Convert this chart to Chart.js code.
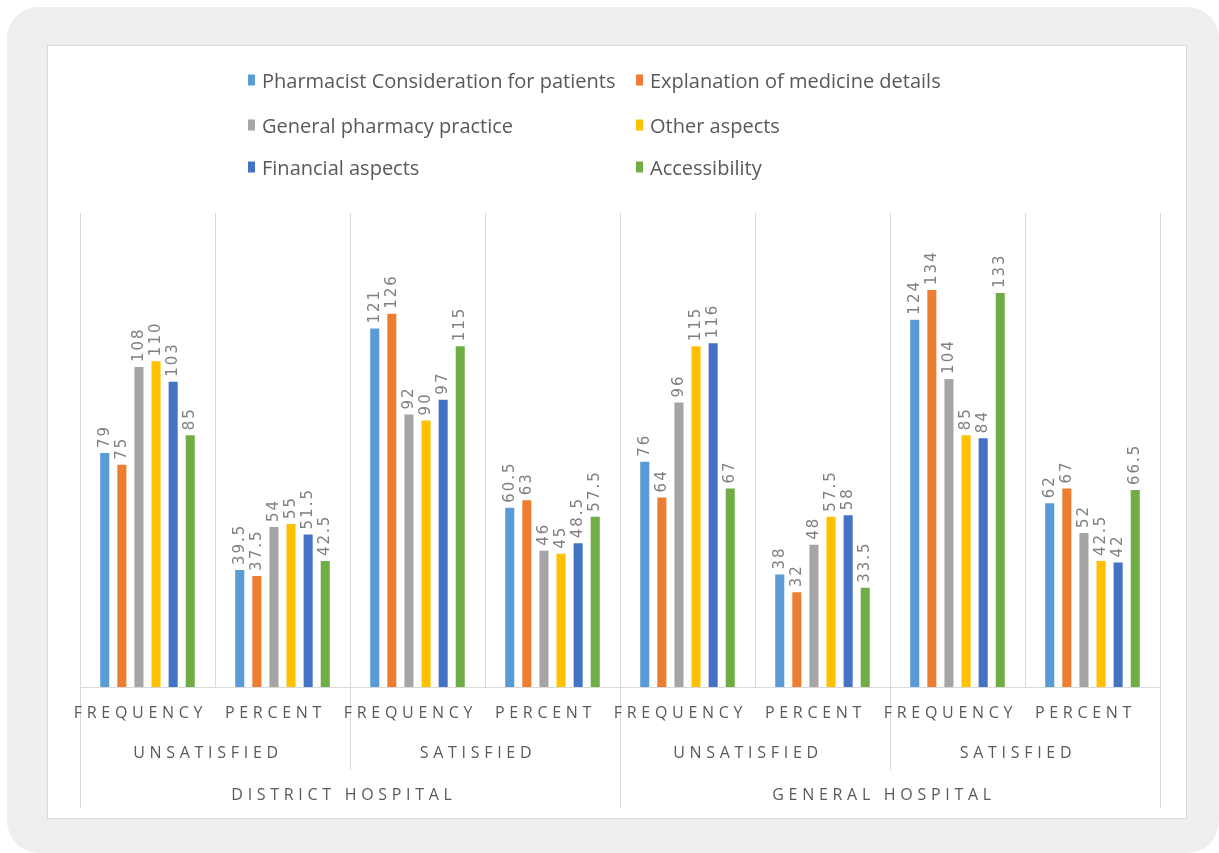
<!DOCTYPE html>
<html>
<head>
<meta charset="utf-8">
<script src="https://cdn.jsdelivr.net/npm/chart.js@4"></script>
<style>
  html, body { margin: 0; padding: 0; background: #ffffff; }
  #wrap { position: relative; width: 1219px; height: 853px; overflow: hidden; }
  #outer { position: absolute; left: 7px; top: 7px; width: 1212px; height: 846px; background: #eeeeee; border-radius: 32px; }
  #inner { position: absolute; left: 47px; top: 45px; width: 1138px; height: 772px; background: #ffffff; border: 1px solid #d9d9d9; }
  #chart { position: absolute; left: 0; top: 0; }
  #legend { position: absolute; left: 0; top: 0; font-family: "Open Sans", sans-serif; font-size: 20px; color: #595959; }
  .item { position: absolute; display: flex; align-items: center; white-space: nowrap; transform: translateY(-50%); }
  .box { width: 7px; height: 11px; margin-right: 7px; }
</style>
</head>
<body>
<div id="wrap">
  <div id="outer"></div>
  <div id="inner"></div>
  <canvas id="chart" width="1219" height="853"></canvas>
  <div id="legend"></div>
</div>
<script>
// ---- data ----
const categories = ['FREQUENCY', 'PERCENT', 'FREQUENCY', 'PERCENT', 'FREQUENCY', 'PERCENT', 'FREQUENCY', 'PERCENT'];
const satisfactionGroups = ['UNSATISFIED', 'SATISFIED', 'UNSATISFIED', 'SATISFIED'];
const hospitals = ['DISTRICT HOSPITAL', 'GENERAL HOSPITAL'];
const seriesNames = ['Pharmacist Consideration for patients', 'Explanation of medicine details', 'General pharmacy practice', 'Other aspects', 'Financial aspects', 'Accessibility'];
const pharmacistConsideration = [79, 39.5, 121, 60.5, 76, 38, 124, 62];
const explanationMedicine = [75, 37.5, 126, 63, 64, 32, 134, 67];
const generalPractice = [108, 54, 92, 46, 96, 48, 104, 52];
const otherAspects = [110, 55, 90, 45, 115, 57.5, 85, 42.5];
const financialAspects = [103, 51.5, 97, 48.5, 116, 58, 84, 42];
const accessibility = [85, 42.5, 115, 57.5, 67, 33.5, 133, 66.5];

const seriesValues = [pharmacistConsideration, explanationMedicine, generalPractice, otherAspects, financialAspects, accessibility];
const colors = ['#5B9BD5', '#ED7D31', '#A5A5A5', '#FFC000', '#4472C4', '#70AD47'];

const datasets = seriesNames.map((name, i) => ({
  label: name,
  data: seriesValues[i],
  backgroundColor: colors[i],
  borderWidth: 0,
  categoryPercentage: 0.76,
  barPercentage: 0.53
}));

// ---- legend (HTML, two columns) ----
const legend = document.getElementById('legend');
const colX = [248, 636];
const rowY = [80, 125, 167];
seriesNames.forEach((name, i) => {
  const d = document.createElement('div');
  d.className = 'item';
  d.style.left = colX[i % 2] + 'px';
  d.style.top = rowY[Math.floor(i / 2)] + 'px';
  const b = document.createElement('span');
  b.className = 'box';
  b.style.background = colors[i];
  const t = document.createElement('span');
  t.textContent = name;
  d.appendChild(b); d.appendChild(t);
  legend.appendChild(d);
});

// ---- plugins ----
const dataLabels = {
  id: 'dataLabels',
  afterDatasetsDraw(chart) {
    const ctx = chart.ctx;
    ctx.save();
    ctx.fillStyle = '#808080';
    ctx.font = '15px "DejaVu Sans", sans-serif';
    if ('letterSpacing' in ctx) ctx.letterSpacing = '2px';
    ctx.textAlign = 'left';
    ctx.textBaseline = 'middle';
    chart.data.datasets.forEach((ds, di) => {
      const meta = chart.getDatasetMeta(di);
      meta.data.forEach((el, i) => {
        ctx.save();
        ctx.translate(el.x, el.y - 5);
        ctx.rotate(-Math.PI / 2);
        ctx.fillText(String(ds.data[i]), 0, 0);
        ctx.restore();
      });
    });
    ctx.restore();
  }
};

const multiAxis = {
  id: 'multiAxis',
  afterDraw(chart) {
    const ctx = chart.ctx;
    const xs = chart.scales.x;
    const area = chart.chartArea;
    const w = (xs.getPixelForValue(1) - xs.getPixelForValue(0));
    const edge = k => xs.getPixelForValue(0) - w / 2 + k * w;
    ctx.save();
    ctx.strokeStyle = '#d9d9d9';
    ctx.lineWidth = 1;
    [0, 4, 8].forEach(k => {
      const x = Math.round(edge(k)) + 0.5;
      ctx.beginPath(); ctx.moveTo(x, area.bottom); ctx.lineTo(x, 808); ctx.stroke();
    });
    [2, 6].forEach(k => {
      const x = Math.round(edge(k)) + 0.5;
      ctx.beginPath(); ctx.moveTo(x, area.bottom); ctx.lineTo(x, 770); ctx.stroke();
    });
    ctx.fillStyle = '#595959';
    ctx.font = '16px "Open Sans", sans-serif';
    if ('letterSpacing' in ctx) ctx.letterSpacing = '4.7px';
    ctx.textAlign = 'center';
    ctx.textBaseline = 'middle';
    const shift = -7;
    categories.forEach((c, i) => {
      ctx.fillText(c, xs.getPixelForValue(i) + shift, 713);
    });
    satisfactionGroups.forEach((g, j) => {
      const x = (xs.getPixelForValue(2 * j) + xs.getPixelForValue(2 * j + 1)) / 2;
      ctx.fillText(g, x + shift, 753);
    });
    hospitals.forEach((h, j) => {
      let s = 0;
      for (let k = 0; k < 4; k++) s += xs.getPixelForValue(4 * j + k);
      ctx.fillText(h, s / 4 + shift + 1, 795);
    });
    ctx.restore();
  }
};

new Chart(document.getElementById('chart'), {
  type: 'bar',
  data: { labels: categories, datasets },
  options: {
    responsive: false,
    animation: false,
    devicePixelRatio: 1,
    layout: { padding: { left: 80, right: 59, top: 213, bottom: 166 } },
    plugins: { legend: { display: false }, tooltip: { enabled: false } },
    scales: {
      x: {
        grid: { color: '#d9d9d9', offset: true, drawTicks: false, lineWidth: 1 },
        border: { color: '#d9d9d9', width: 1 },
        ticks: { display: false }
      },
      y: { display: false, min: 0, max: 160 }
    }
  },
  plugins: [dataLabels, multiAxis]
});
</script>
</body>
</html>
